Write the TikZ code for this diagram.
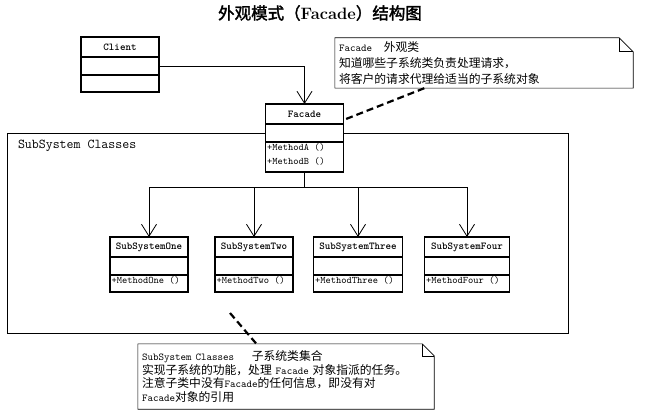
\documentclass[tikz,border=0pt]{standalone}
\usepackage{fontspec}
\newfontfamily\zhfont{Noto Sans CJK SC}
\newfontfamily\zhbold[FakeBold=2]{Noto Sans CJK SC}
\usetikzlibrary{positioning,calc,arrows.meta}
\newcommand\en[1]{{\ttfamily\fontsize{10.5pt}{14pt}\selectfont #1}}
\tikzset{
	classbox/.style = {line width=1.2pt},
	classname/.style = {inner sep=0pt, font=\ttfamily\bfseries\fontsize{10.5pt}{12pt}\selectfont},
	method/.style = {anchor=north west, align=left, inner xsep=1.5pt, inner ysep=1.5pt, font=\ttfamily\fontsize{10pt}{14pt}\selectfont},
	assoc/.style = {line width=0.8pt, -{Straight Barb[length=12pt,width=15pt]}},
	link/.style = {line width=0.8pt},
	notetext/.style = {align=left, inner xsep=4pt, inner ysep=2pt, font=\zhfont\fontsize{11.8pt}{16pt}\selectfont},
	notebox/.style = {line width=0.6pt},
	noteline/.style = {line width=2.2pt, dash pattern=on 7pt off 4pt}}
\tikzset{
	pics/umlclass/.style n args = {4}{code = {
	 \coordinate (-top) at (0,0) ;
	 \coordinate (-bottom) at (0,-38-#4) ;
	 \coordinate (-right) at (#2/2,-29) ;
	 \coordinate (-head) at (#2/2,-16) ;
	 \draw [classbox, fill=white] (-#2/2,0) rectangle (#2/2,-38-#4);
	 \draw [classbox] (-#2/2,-20) -- (#2/2,-20) (-#2/2,-38) -- (#2/2,-38);
	 \node (-name) [classname] at (0,-10) {#1};
	 \node (-ops) [method] at (-#2/2,-38) {#3};
	 }}}
\begin{document}
\begin{tikzpicture}[x=1pt, y=1pt, node distance=24pt]
\useasboundingbox (0,0) rectangle (654,413);

% NODES
% title
\node (title) at (320,400) {\zhbold\fontsize{16.5pt}{18pt}\selectfont 外观模式（{\rmfamily\bfseries Facade}）结构图};
% subsystem package
\node (subsys) [draw, line width=1pt, minimum width=561pt, minimum height=199pt] at (287.5,179.5) {};
\node (sslabel) [anchor=west, font=\ttfamily\fontsize{13.5pt}{15pt}\selectfont] at ($(subsys.north west)+(8,-12)$) {SubSystem Classes};
% classes
\pic (client) at (120,376) {umlclass={Client}{78}{}{17}};
\pic (facade) at (304.5,309) {umlclass={Facade}{78}{+MethodA ()\\+MethodB ()}{30}};
\pic (one) at (149,176) {umlclass={SubSystemOne}{78}{+MethodOne ()}{17}};
\pic (two) at (254,176) {umlclass={SubSystemTwo}{78}{+MethodTwo ()}{17}};
\pic (three) at (358,176) {umlclass={SubSystemThree}{89}{+MethodThree ()}{17}};
\pic (four) at (467,176) {umlclass={SubSystemFour}{85}{+MethodFour ()}{17}};
% notes
\node (facadenote) [notetext, text width=290pt, minimum height=50pt] at (484,350)
	{\en{Facade}\quad 外观类\\知道哪些子系统类负责处理请求，\\将客户的请求代理给适当的子系统对象};
\draw [notebox] (facadenote.north west) -- ([xshift=-14pt]facadenote.north east) -- ([yshift=-14pt]facadenote.north east) -- (facadenote.south east) -- (facadenote.south west) -- cycle;
\draw [notebox] ([xshift=-14pt]facadenote.north east) |- ([yshift=-14pt]facadenote.north east);
\node (ssnote) [notetext, text width=288pt, minimum height=65pt, font=\zhfont\fontsize{11.8pt}{13.5pt}\selectfont] at (286,36.5)
	{\en{SubSystem Classes}\hspace{1.5em}子系统类集合\\实现子系统的功能，处理 \en{Facade} 对象指派的任务。\\注意子类中没有\en{Facade}的任何信息，即没有对\\\en{Facade}对象的引用};
\draw [notebox] (ssnote.north west) -- ([xshift=-12pt]ssnote.north east) -- ([yshift=-12pt]ssnote.north east) -- (ssnote.south east) -- (ssnote.south west) -- cycle;
\draw [notebox] ([xshift=-12pt]ssnote.north east) |- ([yshift=-12pt]ssnote.north east);
% helper points
\coordinate (fork) at ($(facade-bottom)+(0,-15)$);
\coordinate (fnotefoot) at ($(facadenote.south west)!0.3!(facadenote.south east)$);
\coordinate (ssnotehead) at ($(ssnote.north west)!0.4!(ssnote.north east)$);
\coordinate (ssinside) at (230,100);

%CONNECTIONS
\draw [assoc] (client-right) -| (facade-top);
\draw [link] (facade-bottom) -- (fork);
\foreach \s in {one,two,three,four}
	\draw [assoc] (fork) -| (\s-top);
\draw [noteline] (fnotefoot) -- (facade-head);
\draw [noteline] (ssinside) -- (ssnotehead);

\end{tikzpicture}
\end{document}
